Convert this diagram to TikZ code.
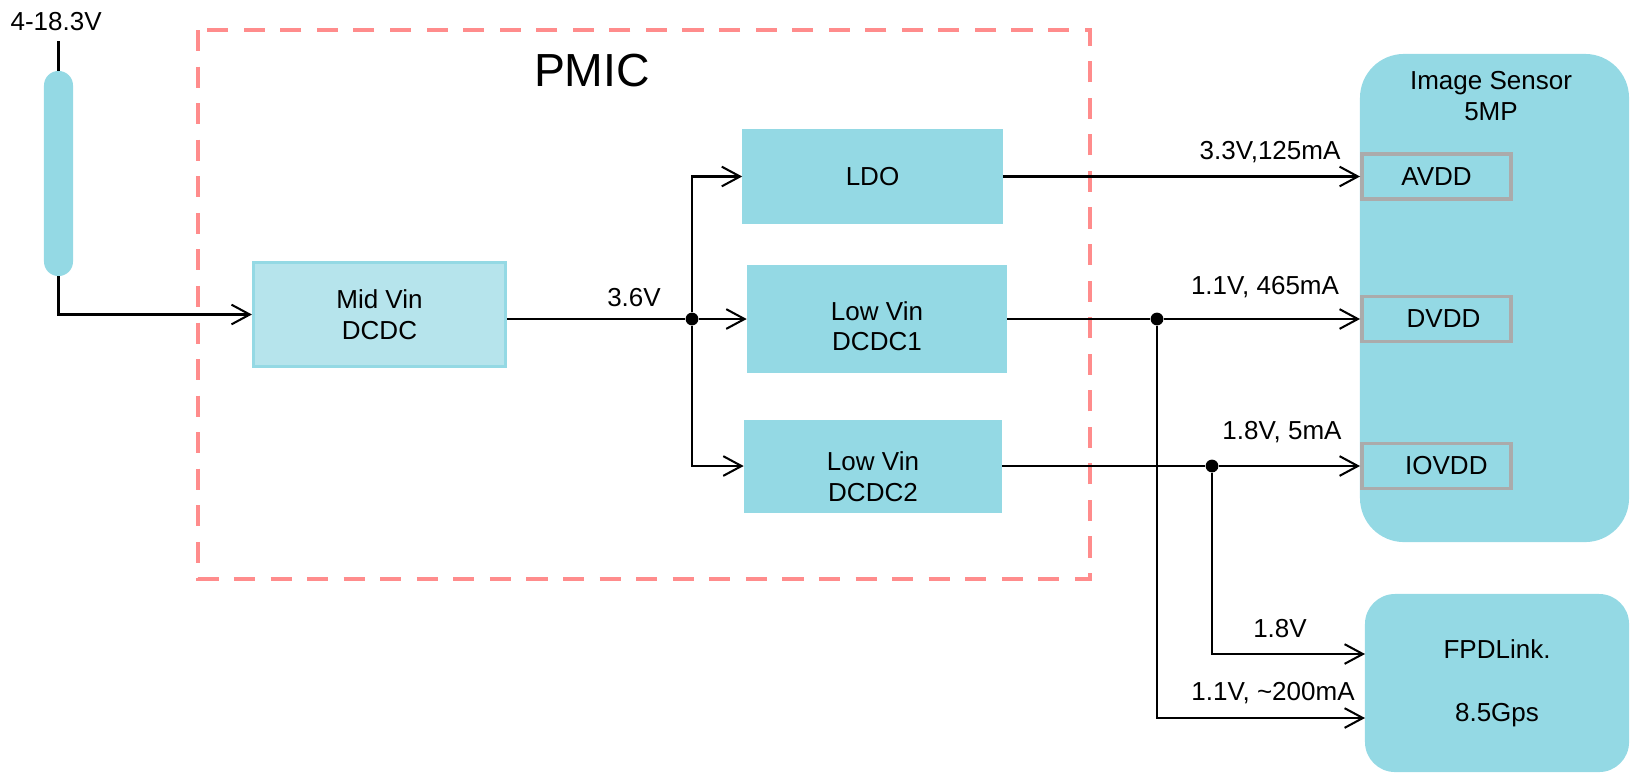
\documentclass[tikz,border=0pt]{standalone}
\usepackage{fontspec}
\setmainfont{Liberation Sans}
\usetikzlibrary{arrows.meta,positioning}
\definecolor{boxcyan}{HTML}{94D9E4}
\definecolor{boxlight}{HTML}{B6E4EC}
\definecolor{pmicred}{HTML}{FF8C8C}
\definecolor{pingray}{HTML}{ABABAB}

\begin{document}
\begin{tikzpicture}[x=0.025cm, y=-0.025cm]

    % Styles for blocks, pins and wires
    \tikzset{
        block/.style={fill=boxcyan, draw=none, inner sep=0pt, align=center, font=\fontsize{18.5}{22}\selectfont},
        midblock/.style={block, fill=boxlight, draw=boxcyan, line width=2.2pt},
        pinbox/.style={block, draw=pingray, line width=2.8pt, minimum width=3.725cm, minimum height=1.125cm},
        chip/.style={block, rounded corners=1.1cm},
        wire/.style={line width=1.45pt},
        feed/.style={wire, -{Straight Barb[length=13pt, width=14pt, line width=1.45pt]}},
        lbl/.style={inner sep=0pt, font=\fontsize{18.5}{22}\selectfont},
        junction/.style={circle, fill=black, inner sep=0pt, minimum size=0.32cm}
    }

    \useasboundingbox (0,0) rectangle (1634,772);

    % --- PMIC BORDER ---
    \draw[pmicred, line width=3pt, dash pattern=on 15pt off 11pt] (198,30) rectangle (1090,579);
    \node[inner sep=0pt, font=\fontsize{33}{40}\selectfont] (pmic) at (592,71) {PMIC};

    % --- INPUT SUPPLY ---
    \node[block, minimum width=0.725cm, minimum height=5.125cm, rounded corners=0.36cm] (src) at (58.5,173.5) {};
    \coordinate (vtop) at (58.5,41);
    \node[lbl, above=0.25cm of vtop, xshift=-0.06cm] (vin) {4-18.3V};
    \draw[wire] (src.north) -- (vtop);

    % --- REGULATORS ---
    \node[midblock, minimum width=6.3cm, minimum height=2.6cm] (mid) at (379.5,314.5) {Mid Vin\\DCDC};
    \node[block, minimum width=6.5cm, minimum height=2.375cm] (ldo) at (872.5,176.5) {LDO};
    \node[block, minimum width=6.5cm, minimum height=2.7cm] (dc1) at (877,319) {};
    \node[lbl, align=center, yshift=-0.18cm] (dc1txt) at (dc1) {Low Vin\\DCDC1};
    \node[block, minimum width=6.45cm, minimum height=2.325cm] (dc2) at (873,466) {};
    \node[lbl, align=center, yshift=-0.27cm] (dc2txt) at (dc2) {Low Vin\\DCDC2};

    % --- LOADS ---
    \node[chip, minimum width=6.725cm, minimum height=12.2cm] (sensor) at (1494.5,298) {};
    \node[lbl, align=center] (sentitle) at (1491,96) {Image Sensor\\5MP};
    \node[pinbox] (avdd) at (1436.5,176.5) {AVDD};
    \node[pinbox] (dvdd) at (1436.5,319) {\hspace*{10pt}DVDD};
    \node[pinbox] (iovdd) at (1436.5,466) {\hspace*{14pt}IOVDD};
    \node[chip, rounded corners=0.75cm, minimum width=6.6cm, minimum height=4.45cm] (fpd) at (1497,683) {FPDLink.\\[22.5pt]8.5Gps};

    % --- WIRES ---
    \draw[feed] (src.south) |- (mid.west);
    \node[junction] (j1) at (692,319) {};
    \draw[wire] (mid.east |- j1) -- (j1);
    \node[lbl] (l36) at (634,298) {3.6V};
    \draw[feed] (j1) |- (ldo.west);
    \draw[feed] (j1) -- (dc1.west);
    \draw[feed] (j1) |- (dc2.west);

    \draw[feed] (ldo.east) -- (avdd.west);
    \node[lbl] (l33) at (1270,152) {3.3V,125mA};

    \node[junction] (j2) at (1157,319) {};
    \draw[wire] (dc1.east) -- (j2);
    \draw[feed] (j2) -- (dvdd.west);
    \node[lbl] (l11) at (1265,287) {1.1V, 465mA};

    \node[junction] (j3) at (1212,466) {};
    \draw[wire] (dc2.east) -- (j3);
    \draw[feed] (j3) -- (iovdd.west);
    \node[lbl] (l18) at (1282,432) {1.8V, 5mA};

    % branches to the serializer
    \coordinate (fin1) at (1365,654);
    \coordinate (fin2) at (1365,718);
    \draw[feed] (j3) |- (fin1);
    \draw[feed] (j2) |- (fin2);
    \node[lbl] (l18b) at (1280,629) {1.8V};
    \node[lbl] (l11b) at (1273,693) {1.1V, \textasciitilde200mA};

\end{tikzpicture}
\end{document}
